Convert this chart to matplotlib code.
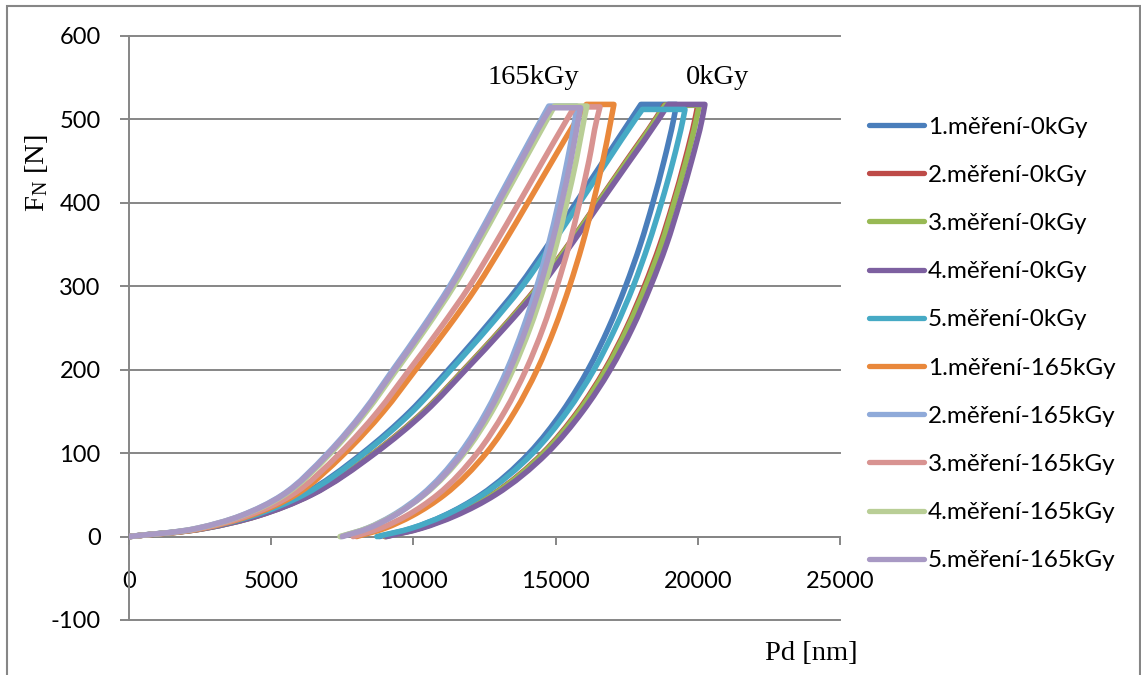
import math
import matplotlib
matplotlib.use("Agg")
import matplotlib.pyplot as plt
from matplotlib.lines import Line2D
from matplotlib.patches import Rectangle, PathPatch
from matplotlib.path import Path

# Indentation depth (nm) sampled at fixed normal-force levels (N)
load_force = [0, 10, 25, 50, 100, 150, 200, 250, 300, 350, 400, 450, 500]
unload_force = [500, 450, 400, 350, 300, 250, 200, 150, 100, 50, 25, 10, 0]

series_labels = [
    "1.měření-0kGy", "2.měření-0kGy", "3.měření-0kGy", "4.měření-0kGy", "5.měření-0kGy",
    "1.měření-165kGy", "2.měření-165kGy", "3.měření-165kGy", "4.měření-165kGy", "5.měření-165kGy",
]
series_colors = [
    "#4A7EBB", "#BE4B48", "#98B954", "#7D60A0", "#46AAC5",
    "#E9883B", "#8FAAD9", "#D89391", "#B9CE96", "#A899C4",
]

# Maximum force reached in each measurement (N)
peak_force = [518, 517, 517, 518, 512, 518, 516, 515, 516, 514]
# Depth at start and end of the hold at maximum force (nm)
hold_start = [18000, 18820, 18850, 18960, 18050, 16080, 14760, 15660, 14960, 14830]
hold_end = [19250, 20000, 20050, 20250, 19550, 17050, 15750, 16560, 16100, 15880]

# Loading branch depths (nm) at load_force levels
load_depth_1_0 = [0, 2560, 4320, 6090, 8210, 9880, 11230, 12510, 13710, 14740, 15710, 16680, 17650]
load_depth_2_0 = [0, 2680, 4530, 6380, 8600, 10360, 11770, 13120, 14370, 15450, 16470, 17480, 18500]
load_depth_3_0 = [0, 2690, 4540, 6390, 8620, 10380, 11790, 13140, 14400, 15470, 16490, 17510, 18530]
load_depth_4_0 = [0, 2700, 4560, 6420, 8660, 10430, 11840, 13200, 14470, 15550, 16570, 17600, 18620]
load_depth_5_0 = [0, 2580, 4360, 6140, 8280, 9970, 11320, 12620, 13830, 14860, 15840, 16820, 17800]
load_depth_1_165 = [0, 2600, 4250, 5860, 7590, 8950, 10080, 11200, 12240, 13150, 14020, 14880, 15750]
load_depth_2_165 = [0, 2390, 3920, 5390, 6990, 8240, 9280, 10310, 11270, 12110, 12910, 13700, 14500]
load_depth_3_165 = [0, 2540, 4160, 5730, 7420, 8750, 9860, 10950, 11970, 12860, 13710, 14550, 15400]
load_depth_4_165 = [0, 2430, 3970, 5470, 7090, 8350, 9410, 10450, 11420, 12270, 13080, 13890, 14700]
load_depth_5_165 = [0, 2410, 3940, 5420, 7030, 8280, 9330, 10370, 11330, 12170, 12980, 13780, 14580]

# Unloading branch depths (nm) at unload_force levels
unload_depth_1_0 = [19150, 18810, 18420, 17980, 17460, 16860, 16140, 15240, 14070, 12370, 11070, 9960, 8800]
unload_depth_2_0 = [19900, 19540, 19130, 18670, 18120, 17490, 16730, 15780, 14550, 12760, 11390, 10220, 9000]
unload_depth_3_0 = [19950, 19590, 19170, 18720, 18170, 17530, 16770, 15820, 14580, 12790, 11410, 10240, 9020]
unload_depth_4_0 = [20150, 19780, 19360, 18900, 18340, 17700, 16920, 15950, 14700, 12880, 11480, 10290, 9050]
unload_depth_5_0 = [19480, 19130, 18720, 18260, 17730, 17100, 16350, 15410, 14200, 12430, 11080, 9930, 8720]
unload_depth_1_165 = [16950, 16660, 16320, 15940, 15490, 14970, 14350, 13570, 12560, 11090, 9960, 9000, 8000]
unload_depth_2_165 = [15680, 15410, 15100, 14750, 14340, 13860, 13290, 12570, 11640, 10290, 9250, 8370, 7450]
unload_depth_3_165 = [16450, 16170, 15840, 15480, 15050, 14560, 13960, 13210, 12240, 10840, 9760, 8840, 7880]
unload_depth_4_165 = [16000, 15720, 15390, 15030, 14600, 14100, 13500, 12760, 11790, 10380, 9300, 8380, 7420]
unload_depth_5_165 = [15800, 15530, 15210, 14860, 14450, 13970, 13390, 12660, 11730, 10360, 9320, 8430, 7500]

load_depths = [load_depth_1_0, load_depth_2_0, load_depth_3_0, load_depth_4_0, load_depth_5_0,
               load_depth_1_165, load_depth_2_165, load_depth_3_165, load_depth_4_165, load_depth_5_165]
unload_depths = [unload_depth_1_0, unload_depth_2_0, unload_depth_3_0, unload_depth_4_0, unload_depth_5_0,
                 unload_depth_1_165, unload_depth_2_165, unload_depth_3_165, unload_depth_4_165, unload_depth_5_165]

x_ticks = [0, 5000, 10000, 15000, 20000, 25000]
y_ticks = [-100, 0, 100, 200, 300, 400, 500, 600]

W, H = 1141, 675
GRAY = "#868686"
SANS = "Lato"
SERIF = "Liberation Serif"

plt.rcParams["mathtext.fontset"] = "custom"
plt.rcParams["mathtext.rm"] = SERIF
plt.rcParams["mathtext.it"] = SERIF + ":italic"

fig = plt.figure(figsize=(W / 100, H / 100), dpi=100)
fig.patch.set_facecolor("white")

# outer chart-area frame (bottom edge lies outside the canvas)
fig.add_artist(Rectangle((7 / W, -0.02), (1139.5 - 7) / W, 1 - 5.5 / H + 0.02,
                         transform=fig.transFigure, fill=False,
                         edgecolor=GRAY, linewidth=1.5))

ax = fig.add_axes([129 / W, 1 - 620 / H, (840 - 129) / W, (620 - 36) / H])
ax.set_xlim(0, 25000)
ax.set_ylim(-100, 600)


def smooth_branch(xs, fs):
    """Smoothed-line Bezier segments through the nodes; tangents are taken in
    screen space from the parabola through each node and its neighbours."""
    to_px = ax.transData.transform
    from_px = ax.transData.inverted().transform
    pts = [tuple(to_px((x, f))) for x, f in zip(xs, fs)]
    n = len(pts)
    chords = []
    for k in range(n - 1):
        dx, dy = pts[k + 1][0] - pts[k][0], pts[k + 1][1] - pts[k][1]
        L = math.hypot(dx, dy)
        chords.append((dx / L, dy / L, L))
    tang = [chords[0][:2]]
    for k in range(1, n - 1):
        u0x, u0y, L0 = chords[k - 1]
        u1x, u1y, L1 = chords[k]
        tx = L1 * u0x + L0 * u1x
        ty = L1 * u0y + L0 * u1y
        L = math.hypot(tx, ty)
        tang.append((tx / L, ty / L))
    tang.append(chords[-1][:2])
    verts, codes = [], []
    for k in range(n - 1):
        L = chords[k][2] / 3.0
        c1 = (pts[k][0] + tang[k][0] * L, pts[k][1] + tang[k][1] * L)
        c2 = (pts[k + 1][0] - tang[k + 1][0] * L, pts[k + 1][1] - tang[k + 1][1] * L)
        verts += [tuple(from_px(c1)), tuple(from_px(c2)), (xs[k + 1], fs[k + 1])]
        codes += [Path.CURVE4] * 3
    return verts, codes


for i in range(len(series_labels)):
    lx = list(load_depths[i]) + [hold_start[i]]
    lf = list(load_force) + [peak_force[i]]
    ux = [hold_end[i]] + list(unload_depths[i])
    uf = [peak_force[i]] + list(unload_force)
    verts = [(lx[0], lf[0])]
    codes = [Path.MOVETO]
    v, c = smooth_branch(lx, lf)
    verts += v
    codes += c
    verts.append((ux[0], uf[0]))
    codes.append(Path.LINETO)
    v, c = smooth_branch(ux, uf)
    verts += v
    codes += c
    ax.add_patch(PathPatch(Path(verts, codes), fill=False, edgecolor=series_colors[i],
                           linewidth=4.0, joinstyle="round", capstyle="round",
                           zorder=3 + i * 0.01))

# axes styling
for side in ("top", "right"):
    ax.spines[side].set_visible(False)
ax.spines["bottom"].set_position(("data", 0))
for side in ("left", "bottom"):
    ax.spines[side].set_color(GRAY)
    ax.spines[side].set_linewidth(1.4)
    ax.spines[side].set_zorder(2.5)

ax.set_xticks(x_ticks)
ax.set_yticks(y_ticks)
ax.set_xticklabels([str(v) for v in x_ticks])
ax.set_yticklabels([str(v) for v in y_ticks])
ax.tick_params(axis="x", direction="out", length=6, width=1.4, color=GRAY,
               pad=19, labelsize=17, labelcolor="black")
ax.tick_params(axis="y", direction="out", length=6.5, width=1.4, color=GRAY,
               pad=14, labelsize=17, labelcolor="black")
for lab in ax.get_xticklabels() + ax.get_yticklabels():
    lab.set_family(SANS)

ax.yaxis.grid(True, color=GRAY, linewidth=1.4, zorder=0)
ax.set_axisbelow(True)
for gl in ax.yaxis.get_gridlines():
    gl.set_clip_on(False)

# group annotations
ax.text(14205, 550, "165kGy", family=SERIF, fontsize=20.5, ha="center", va="center")
ax.text(20710, 550, "0kGy", family=SERIF, fontsize=20.5, ha="center", va="center")

# axis titles
fig.text(811 / W, 1 - 653 / H, "Pd [nm]", family=SERIF, fontsize=20.5,
         ha="center", va="center")
fig.text(36 / W, 1 - 173 / H, r"F$_\mathrm{N}$ [N]", family=SERIF, fontsize=20.5,
         ha="center", va="center", rotation=90)

# legend entries
for i, (lab, col) in enumerate(zip(series_labels, series_colors)):
    yc = 1 - (125 + i * 48.2) / H
    fig.add_artist(Line2D([869 / W, 924 / W], [yc, yc], transform=fig.transFigure,
                          color=col, linewidth=3.8, solid_capstyle="round"))
    fig.text(928 / W, yc, lab, family=SANS, fontsize=17.5, ha="left", va="center_baseline")

fig.savefig("out.png", dpi=100, facecolor="white")
